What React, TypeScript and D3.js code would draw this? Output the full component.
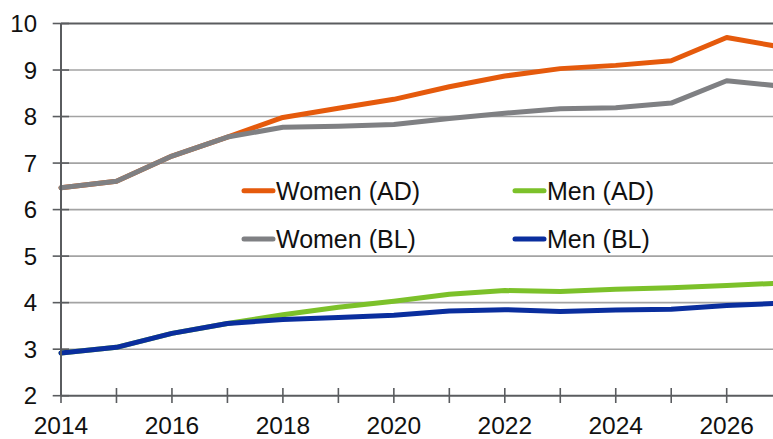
import React from "react";
import * as d3 from "d3";

const years = [2014, 2015, 2016, 2017, 2018, 2019, 2020, 2021, 2022, 2023, 2024, 2025, 2026, 2027];
const womenAD = [6.47, 6.61, 7.15, 7.56, 7.98, 8.18, 8.37, 8.64, 8.87, 9.03, 9.1, 9.2, 9.7, 9.49];
const menAD = [2.92, 3.04, 3.34, 3.55, 3.74, 3.9, 4.03, 4.18, 4.26, 4.24, 4.29, 4.32, 4.37, 4.42];
const womenBL = [6.47, 6.61, 7.15, 7.56, 7.77, 7.79, 7.83, 7.96, 8.07, 8.17, 8.19, 8.29, 8.77, 8.65];
const menBL = [2.92, 3.04, 3.34, 3.55, 3.64, 3.68, 3.73, 3.82, 3.85, 3.81, 3.84, 3.86, 3.94, 3.99];
const yTicks = [2, 3, 4, 5, 6, 7, 8, 9, 10];
const xLabels = [2014, 2016, 2018, 2020, 2022, 2024, 2026];

const seriesList = [
  { name: "Women (AD)", values: womenAD, color: "#E55A0C" },
  { name: "Men (AD)", values: menAD, color: "#7CC12A" },
  { name: "Women (BL)", values: womenBL, color: "#7F8083" },
  { name: "Men (BL)", values: menBL, color: "#0A2E9E" },
];

const legendItems = [
  { name: "Women (AD)", color: "#E55A0C", col: 0, row: 0 },
  { name: "Men (AD)", color: "#7CC12A", col: 1, row: 0 },
  { name: "Women (BL)", color: "#7F8083", col: 0, row: 1 },
  { name: "Men (BL)", color: "#0A2E9E", col: 1, row: 1 },
];

const W = 773;
const H = 439;
const FONT = "'Liberation Sans', Arial, sans-serif";

export default function App() {
  const x = d3.scaleLinear().domain([2014, 2026]).range([61, 726.7]);
  const y = d3.scaleLinear().domain([2, 10]).range([395.7, 23.5]);
  const line = d3
    .line<number>()
    .x((_, i) => x(years[i]))
    .y((d) => y(d));

  return (
    <svg
      width={W}
      height={H}
      style={{ position: "absolute", left: 0, top: 0, background: "#fff" }}
      fontFamily={FONT}
    >
      <defs>
        <clipPath id="clip">
          <rect x={0} y={0} width={W} height={H} />
        </clipPath>
      </defs>
      {yTicks.map((t) =>
        t === 2 ? null : (
          <line
            key={"g" + t}
            x1={x(2014)}
            x2={W}
            y1={y(t)}
            y2={y(t)}
            stroke={t === 10 ? "#5a5c5f" : "#a3a3a3"}
            strokeWidth={t === 10 ? 2 : 1.6}
          />
        )
      )}
      <g clipPath="url(#clip)">
        {seriesList.map((s) => (
          <path
            key={s.name}
            d={line(s.values) || ""}
            fill="none"
            stroke={s.color}
            strokeWidth={5}
            strokeLinejoin="round"
            strokeLinecap="round"
          />
        ))}
      </g>
      <line x1={x(2014)} x2={x(2014)} y1={y(10)} y2={y(2)} stroke="#5a5c5f" strokeWidth={2} />
      <line x1={x(2014)} x2={W} y1={y(2)} y2={y(2)} stroke="#5a5c5f" strokeWidth={2} />
      {yTicks.map((t) => (
        <line key={"yt" + t} x1={52.7} x2={69} y1={y(t)} y2={y(t)} stroke="#5a5c5f" strokeWidth={1.6} />
      ))}
      {years.map((yr) => (
        <line key={"xt" + yr} x1={x(yr)} x2={x(yr)} y1={388} y2={403} stroke="#5a5c5f" strokeWidth={1.6} />
      ))}
      {yTicks.map((t) => (
        <text
          key={"yl" + t}
          x={37}
          y={y(t)}
          dy="0.36em"
          textAnchor="end"
          fontSize={24}
          fill="#111"
        >
          {t}
        </text>
      ))}
      {xLabels.map((yr) => (
        <text key={"xl" + yr} x={x(yr)} y={434} textAnchor="middle" fontSize={24.5} fill="#111">
          {yr}
        </text>
      ))}
      {legendItems.map((it) => {
        const lx = it.col === 0 ? 244 : 515;
        const ly = it.row === 0 ? 190.7 : 239;
        return (
          <g key={it.name}>
            <line x1={lx} x2={lx + 29} y1={ly} y2={ly} stroke={it.color} strokeWidth={5} strokeLinecap="round" />
            <text x={lx + 32} y={ly} dy="0.36em" fontSize={25} fill="#111">
              {it.name}
            </text>
          </g>
        );
      })}
    </svg>
  );
}
